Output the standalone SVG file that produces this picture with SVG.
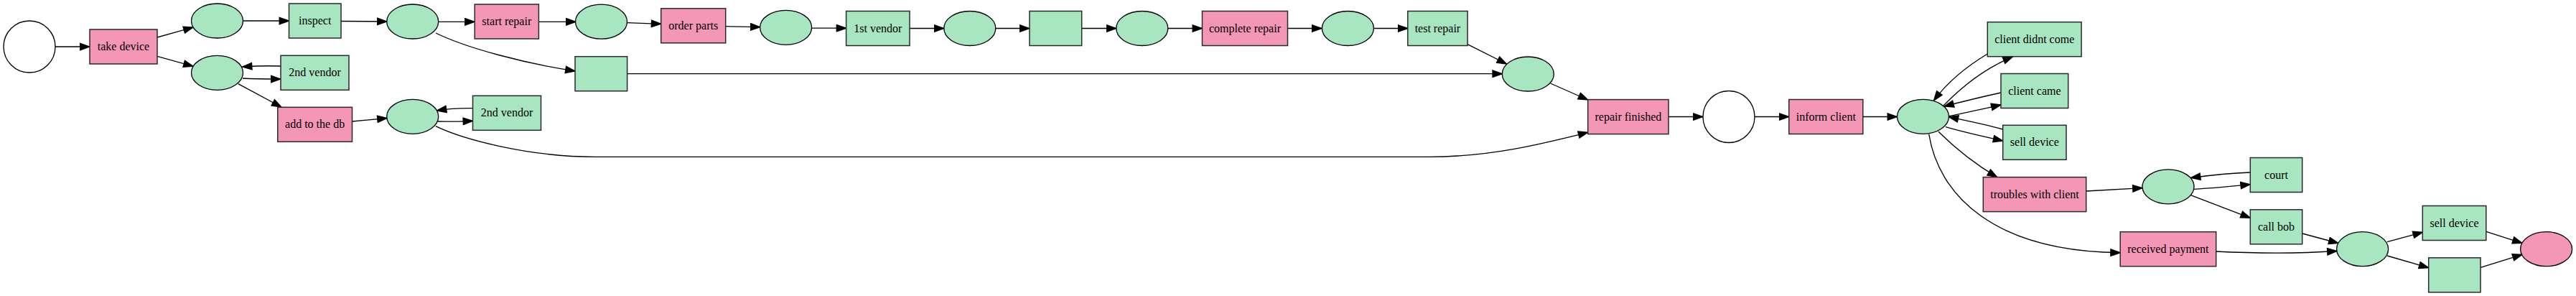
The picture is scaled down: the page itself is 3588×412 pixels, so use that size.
<svg xmlns="http://www.w3.org/2000/svg" width="3588" height="412" viewBox="0 0 3588 412">
<style>
.t rect{fill:#a8e6c2;stroke:#2a2a2a;stroke-width:1.5}
.t.r rect{fill:#f497b7}
.p ellipse{fill:#a8e6c2;stroke:#000;stroke-width:1.33}
.p.w ellipse{fill:#fff}
.p.r ellipse{fill:#f497b7}
text{font-family:"Liberation Serif","Times New Roman",serif;font-size:16px;fill:#000;text-anchor:middle}
#edges path{fill:none;stroke:#000;stroke-width:1.33;marker-end:url(#arr)}
</style>
<defs>
<marker id="arr" viewBox="-1 -1 15.3 11.4" refX="13.3" refY="4.7" markerWidth="15.3" markerHeight="11.4" markerUnits="userSpaceOnUse" orient="auto">
<path d="M0,0 L13.3,4.7 L0,9.4 z" fill="#000" stroke="#000" stroke-width="1.33"/>
</marker>
</defs>
<rect x="0" y="0" width="3588" height="412" fill="#fff"/>
<g id="edges">
<path d="M77,65 L125,65"/>
<path d="M219,52 L269,38"/>
<path d="M219,78.3 L269,92.3"/>
<path d="M338.5,29 L402.5,29"/>
<path d="M475,29.5 L539,30"/>
<path d="M391,92 C374,91.5 356,91.8 337.5,93"/>
<path d="M338,109 C355,110 372,110 391,110"/>
<path d="M331.7,116.7 L392,149"/>
<path d="M490.5,169 L539,164.5"/>
<path d="M610.7,30.3 L661,30.3"/>
<path d="M607,46 C650,67 730,88 801,99"/>
<path d="M658.5,150.7 C640,150.5 624,151.5 608.5,154"/>
<path d="M609.5,169 C625,169.5 640,169 658.5,168.3"/>
<path d="M606.9,175.7 C645,194 735,218.3 830,218.3 L1990,218.3 C2075,218.3 2145,201 2211.7,184.3"/>
<path d="M750.4,30.3 L802,30.3"/>
<path d="M873.3,31.7 L920.7,33.3"/>
<path d="M1010.6,36.7 L1058.9,37.7"/>
<path d="M1130.4,39.2 L1178.6,39.2"/>
<path d="M1267,39.5 L1315,39.5"/>
<path d="M1387,39.5 L1434,39.5"/>
<path d="M1507,39.5 L1555,39.5"/>
<path d="M1627,39.5 L1674.5,39.5"/>
<path d="M1793.6,39.5 L1841,39.5"/>
<path d="M1913.7,39.5 L1960.8,39.5"/>
<path d="M2044,61.7 L2098.5,89"/>
<path d="M873.6,102.7 L2092.3,102.7"/>
<path d="M2159.5,116 L2211.7,139"/>
<path d="M2324,162.5 L2372,162.5"/>
<path d="M2444,162.5 L2491.8,162.5"/>
<path d="M2594.8,162.5 L2642.5,162.5"/>
<path d="M2768.3,75 C2740,92 2712,115 2693.5,140"/>
<path d="M2707,147 C2735,118 2765,95 2803.3,79"/>
<path d="M2787,129 C2762,134.5 2735,141 2708,148"/>
<path d="M2714.3,161.7 C2738,157 2762,151.5 2787,146"/>
<path d="M2789.7,180 C2765,173 2740,168 2714.3,162.7"/>
<path d="M2710,176.7 C2735,184 2762,190 2789.7,196"/>
<path d="M2700,183.3 C2722,205 2750,228 2781.7,246.6"/>
<path d="M2686.7,186.7 C2700,270 2775,350 2953.2,351.7"/>
<path d="M2905.7,266 L2984,261.7"/>
<path d="M3055.6,263.3 C3082,262 3108,259.5 3134.3,256.7"/>
<path d="M3134.3,240 C3108,241 3078,244 3051.5,247.5"/>
<path d="M3051.3,271.7 L3134.3,303.3"/>
<path d="M3206.7,325 L3257,338.5"/>
<path d="M3086.7,350 C3150,353 3200,353 3255,349.5"/>
<path d="M3325,336.7 L3374.3,323.3"/>
<path d="M3325,356 L3382.7,372.7"/>
<path d="M3462.8,322.3 L3513,338.3"/>
<path d="M3455,372.3 L3513,354.3"/>
</g>
<g id="p_start" class="p w"><ellipse cx="41" cy="65" rx="36" ry="36"/></g>
<g id="t_take_device" class="t r"><rect x="125" y="41" width="94" height="48"/><text x="172" y="70">take device</text></g>
<g id="p_a" class="p"><ellipse cx="302.5" cy="29" rx="36" ry="24"/></g>
<g id="p_b" class="p"><ellipse cx="302.5" cy="101.3" rx="36" ry="24"/></g>
<g id="t_inspect" class="t"><rect x="402.5" y="5" width="72.5" height="48"/><text x="438.7" y="34">inspect</text></g>
<g id="t_2nd_vendor_1" class="t"><rect x="391" y="77.3" width="95" height="48"/><text x="438.5" y="106.3">2nd vendor</text></g>
<g id="t_add_db" class="t r"><rect x="386.8" y="149.3" width="103.7" height="48"/><text x="438.6" y="178.3">add to the db</text></g>
<g id="p_c" class="p"><ellipse cx="574.7" cy="30" rx="36" ry="24"/></g>
<g id="p_d" class="p"><ellipse cx="574.7" cy="162.3" rx="36" ry="24"/></g>
<g id="t_start_repair" class="t r"><rect x="661.2" y="6" width="89.2" height="48"/><text x="705.8" y="35">start repair</text></g>
<g id="t_silent_1" class="t"><rect x="801" y="78.7" width="72.6" height="48"/></g>
<g id="t_2nd_vendor_2" class="t"><rect x="658.5" y="133.3" width="95" height="48"/><text x="706" y="162.3">2nd vendor</text></g>
<g id="p_e" class="p"><ellipse cx="837.5" cy="30.2" rx="36" ry="24"/></g>
<g id="t_order_parts" class="t r"><rect x="920.7" y="11.8" width="90" height="48"/><text x="965.7" y="40.8">order parts</text></g>
<g id="p_f" class="p"><ellipse cx="1094.6" cy="38.3" rx="36" ry="24"/></g>
<g id="t_1st_vendor" class="t"><rect x="1178.6" y="15.5" width="88.4" height="48"/><text x="1222.8" y="44.5">1st vendor</text></g>
<g id="p_g" class="p"><ellipse cx="1350.8" cy="39.5" rx="36" ry="24"/></g>
<g id="t_silent_2" class="t"><rect x="1434" y="15.5" width="72.7" height="48"/></g>
<g id="p_h" class="p"><ellipse cx="1590.8" cy="39.5" rx="36" ry="24"/></g>
<g id="t_complete_repair" class="t r"><rect x="1674.5" y="15.5" width="119" height="48"/><text x="1734" y="44.5">complete repair</text></g>
<g id="p_i" class="p"><ellipse cx="1877.4" cy="39.5" rx="36" ry="24"/></g>
<g id="t_test_repair" class="t"><rect x="1960.8" y="15.5" width="83.3" height="48"/><text x="2002.4" y="44.5">test repair</text></g>
<g id="p_j" class="p"><ellipse cx="2128.3" cy="103" rx="36" ry="24"/></g>
<g id="t_repair_finished" class="t r"><rect x="2211.7" y="138.6" width="112.3" height="48"/><text x="2267.9" y="167.6">repair finished</text></g>
<g id="p_k" class="p w"><ellipse cx="2408" cy="162.5" rx="36" ry="36"/></g>
<g id="t_inform_client" class="t r"><rect x="2491.8" y="138.5" width="103" height="48"/><text x="2543.3" y="167.5">inform client</text></g>
<g id="p_l" class="p"><ellipse cx="2678.5" cy="162.3" rx="36" ry="24"/></g>
<g id="t_client_didnt_come" class="t"><rect x="2768.3" y="30.7" width="130.8" height="48"/><text x="2833.7" y="59.7">client didnt come</text></g>
<g id="t_client_came" class="t"><rect x="2787" y="102.5" width="93.7" height="48"/><text x="2833.9" y="131.5">client came</text></g>
<g id="t_sell_device_1" class="t"><rect x="2789.7" y="174.3" width="88.3" height="48"/><text x="2833.8" y="203.3">sell device</text></g>
<g id="t_troubles" class="t r"><rect x="2762.3" y="246.6" width="143.4" height="48"/><text x="2834" y="275.6">troubles with client</text></g>
<g id="t_received_payment" class="t r"><rect x="2953.2" y="322.7" width="133.5" height="48"/><text x="3019.9" y="351.7">received payment</text></g>
<g id="p_m" class="p"><ellipse cx="3020" cy="259.8" rx="36" ry="24"/></g>
<g id="t_court" class="t"><rect x="3134.3" y="219.5" width="72.4" height="48"/><text x="3170.5" y="248.5">court</text></g>
<g id="t_call_bob" class="t"><rect x="3134.3" y="291.8" width="72.4" height="48"/><text x="3170.5" y="320.8">call bob</text></g>
<g id="p_n" class="p"><ellipse cx="3290.6" cy="346.7" rx="36" ry="24"/></g>
<g id="t_sell_device_2" class="t"><rect x="3374.3" y="286.5" width="88.5" height="48"/><text x="3418.5" y="315.5">sell device</text></g>
<g id="t_silent_3" class="t"><rect x="3382.7" y="358.8" width="72.3" height="48"/></g>
<g id="p_end" class="p r"><ellipse cx="3546.6" cy="346.7" rx="36" ry="24"/></g>
</svg>
